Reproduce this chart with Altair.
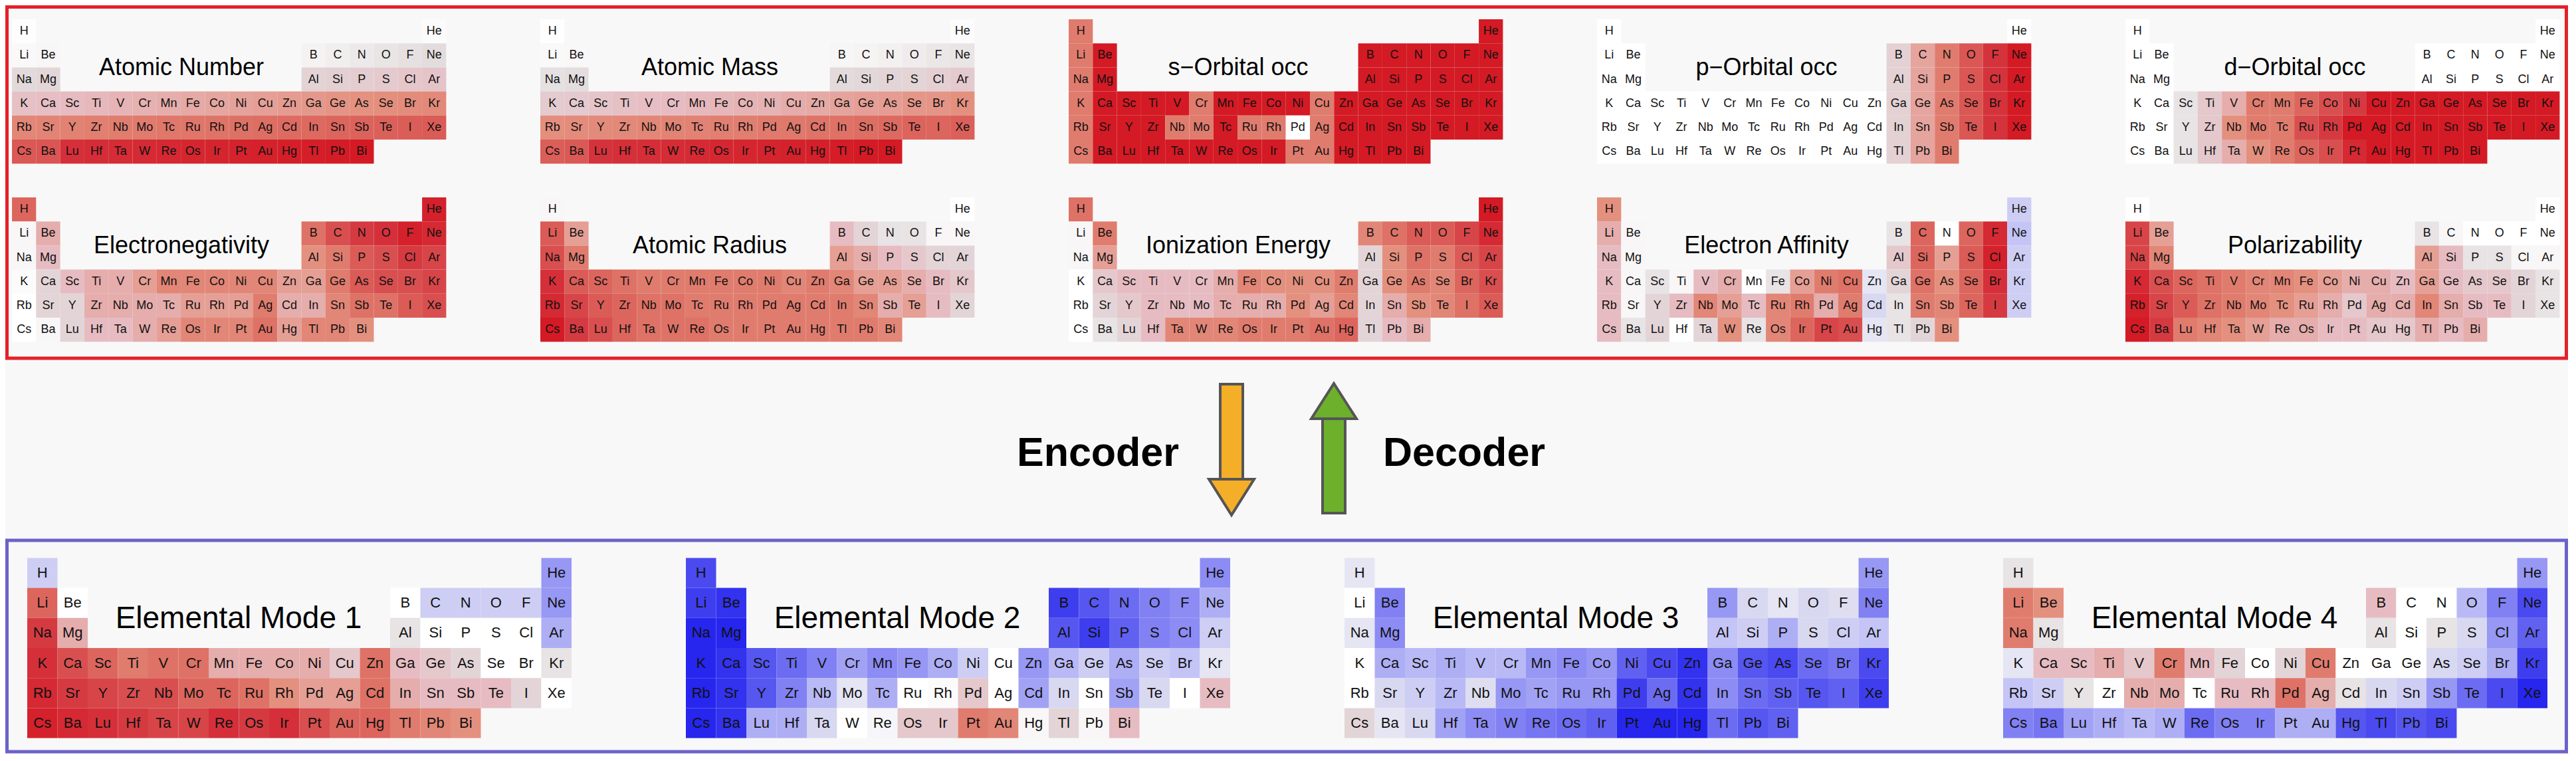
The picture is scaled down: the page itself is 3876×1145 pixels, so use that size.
import altair as alt
import pandas as pd

# ---------------- data ----------------
SYMBOLS = [
    ["H", "He"],
    ["Li", "Be", "B", "C", "N", "O", "F", "Ne"],
    ["Na", "Mg", "Al", "Si", "P", "S", "Cl", "Ar"],
    ["K", "Ca", "Sc", "Ti", "V", "Cr", "Mn", "Fe", "Co", "Ni", "Cu", "Zn", "Ga", "Ge", "As", "Se", "Br", "Kr"],
    ["Rb", "Sr", "Y", "Zr", "Nb", "Mo", "Tc", "Ru", "Rh", "Pd", "Ag", "Cd", "In", "Sn", "Sb", "Te", "I", "Xe"],
    ["Cs", "Ba", "Lu", "Hf", "Ta", "W", "Re", "Os", "Ir", "Pt", "Au", "Hg", "Tl", "Pb", "Bi"],
]
GROUPS = [
    [1, 18],
    [1, 2, 13, 14, 15, 16, 17, 18],
    [1, 2, 13, 14, 15, 16, 17, 18],
    [1, 2, 3, 4, 5, 6, 7, 8, 9, 10, 11, 12, 13, 14, 15, 16, 17, 18],
    [1, 2, 3, 4, 5, 6, 7, 8, 9, 10, 11, 12, 13, 14, 15, 16, 17, 18],
    [1, 2, 3, 4, 5, 6, 7, 8, 9, 10, 11, 12, 13, 14, 15],
]

ATOMIC_NUMBER = [
    [1, 2],
    [3, 4, 5, 6, 7, 8, 9, 10],
    [11, 12, 13, 14, 15, 16, 17, 18],
    [19, 20, 21, 22, 23, 24, 25, 26, 27, 28, 29, 30, 31, 32, 33, 34, 35, 36],
    [37, 38, 39, 40, 41, 42, 43, 44, 45, 46, 47, 48, 49, 50, 51, 52, 53, 54],
    [55, 56, 71, 72, 73, 74, 75, 76, 77, 78, 79, 80, 81, 82, 83],
]
ATOMIC_MASS = [
    [1.008, 4.003],
    [6.94, 9.012, 10.81, 12.011, 14.007, 15.999, 18.998, 20.180],
    [22.990, 24.305, 26.982, 28.085, 30.974, 32.06, 35.45, 39.948],
    [39.098, 40.078, 44.956, 47.867, 50.942, 51.996, 54.938, 55.845, 58.933, 58.693,
     63.546, 65.38, 69.723, 72.630, 74.922, 78.971, 79.904, 83.798],
    [85.468, 87.62, 88.906, 91.224, 92.906, 95.95, 98.0, 101.07, 102.91, 106.42,
     107.87, 112.41, 114.82, 118.71, 121.76, 127.60, 126.90, 131.29],
    [132.91, 137.33, 174.97, 178.49, 180.95, 183.84, 186.21, 190.23, 192.22, 195.08,
     196.97, 200.59, 204.38, 207.2, 208.98],
]
S_OCC = [
    [1, 2],
    [1, 2, 2, 2, 2, 2, 2, 2],
    [1, 2, 2, 2, 2, 2, 2, 2],
    [1, 2, 2, 2, 2, 1, 2, 2, 2, 2, 1, 2, 2, 2, 2, 2, 2, 2],
    [1, 2, 2, 2, 1, 1, 2, 1, 1, 0, 1, 2, 2, 2, 2, 2, 2, 2],
    [1, 2, 2, 2, 2, 2, 2, 2, 2, 1, 1, 2, 2, 2, 2],
]
P_OCC = [
    [0, 0],
    [0, 0, 1, 2, 3, 4, 5, 6],
    [0, 0, 1, 2, 3, 4, 5, 6],
    [0, 0, 0, 0, 0, 0, 0, 0, 0, 0, 0, 0, 1, 2, 3, 4, 5, 6],
    [0, 0, 0, 0, 0, 0, 0, 0, 0, 0, 0, 0, 1, 2, 3, 4, 5, 6],
    [0, 0, 0, 0, 0, 0, 0, 0, 0, 0, 0, 0, 1, 2, 3],
]
D_OCC = [
    [0, 0],
    [0, 0, 0, 0, 0, 0, 0, 0],
    [0, 0, 0, 0, 0, 0, 0, 0],
    [0, 0, 1, 2, 3, 5, 5, 6, 7, 8, 10, 10, 10, 10, 10, 10, 10, 10],
    [0, 0, 1, 2, 4, 5, 5, 7, 8, 10, 10, 10, 10, 10, 10, 10, 10, 10],
    [0, 0, 1, 2, 3, 4, 5, 6, 7, 9, 10, 10, 10, 10, 10],
]
ELECTRONEGATIVITY = [
    [0.6, 0.95],
    [0.05, 0.3, 0.55, 0.7, 0.8, 0.85, 0.95, 0.9],
    [0.05, 0.25, 0.4, 0.5, 0.65, 0.7, 0.8, 0.75],
    [0.02, 0.15, 0.25, 0.3, 0.3, 0.35, 0.45, 0.45, 0.45, 0.45, 0.45, 0.35, 0.35, 0.5, 0.65, 0.7, 0.7, 0.75],
    [0.0, 0.15, 0.15, 0.3, 0.3, 0.3, 0.3, 0.35, 0.35, 0.35, 0.5, 0.3, 0.3, 0.45, 0.55, 0.55, 0.65, 0.7],
    [0.0, 0.05, 0.15, 0.25, 0.25, 0.3, 0.35, 0.45, 0.45, 0.45, 0.55, 0.35, 0.45, 0.45, 0.4],
]
ATOMIC_RADIUS = [
    [0.05, 0.0],
    [0.65, 0.35, 0.25, 0.15, 0.1, 0.1, 0.05, 0.05],
    [0.7, 0.5, 0.35, 0.3, 0.25, 0.2, 0.15, 0.15],
    [0.85, 0.65, 0.6, 0.55, 0.5, 0.5, 0.5, 0.5, 0.5, 0.5, 0.45, 0.5, 0.45, 0.35, 0.35, 0.3, 0.25, 0.2],
    [0.9, 0.75, 0.65, 0.6, 0.55, 0.55, 0.5, 0.5, 0.5, 0.5, 0.5, 0.5, 0.5, 0.45, 0.3, 0.35, 0.25, 0.15],
    [1.0, 0.8, 0.7, 0.6, 0.55, 0.55, 0.55, 0.5, 0.5, 0.5, 0.5, 0.5, 0.5, 0.5, 0.45],
]
IONIZATION = [
    [0.55, 1.0],
    [0.05, 0.5, 0.45, 0.55, 0.65, 0.65, 0.75, 0.9],
    [0.05, 0.35, 0.15, 0.4, 0.55, 0.5, 0.65, 0.75],
    [0.0, 0.2, 0.25, 0.25, 0.25, 0.25, 0.3, 0.45, 0.4, 0.4, 0.4, 0.5, 0.15, 0.4, 0.5, 0.45, 0.6, 0.7],
    [0.0, 0.15, 0.2, 0.25, 0.25, 0.25, 0.3, 0.3, 0.3, 0.4, 0.35, 0.45, 0.15, 0.3, 0.4, 0.45, 0.55, 0.65],
    [0.0, 0.1, 0.15, 0.25, 0.45, 0.45, 0.45, 0.5, 0.5, 0.5, 0.55, 0.6, 0.15, 0.25, 0.3],
]
ELECTRON_AFFINITY = [
    [0.4, -0.2],
    [0.3, 0.05, 0.1, 0.6, 0.0, 0.6, 0.9, -0.25],
    [0.25, 0.05, 0.2, 0.6, 0.35, 0.65, 0.95, -0.2],
    [0.25, 0.05, 0.1, 0.05, 0.25, 0.3, 0.0, 0.1, 0.35, 0.5, 0.55, -0.1, 0.15, 0.55, 0.4, 0.6, 0.85, -0.2],
    [0.25, 0.05, 0.15, 0.25, 0.45, 0.35, 0.25, 0.45, 0.5, 0.3, 0.5, -0.15, 0.1, 0.5, 0.45, 0.6, 0.8, -0.2],
    [0.25, 0.1, 0.15, 0.0, 0.15, 0.4, 0.1, 0.45, 0.6, 0.75, 0.7, -0.1, 0.1, 0.15, 0.4],
]
POLARIZABILITY = [
    [0.0, 0.0],
    [0.75, 0.35, 0.1, 0.05, 0.0, 0.0, 0.0, 0.0],
    [0.75, 0.45, 0.35, 0.25, 0.1, 0.1, 0.05, 0.05],
    [0.9, 0.7, 0.6, 0.55, 0.5, 0.45, 0.45, 0.4, 0.35, 0.3, 0.3, 0.25, 0.35, 0.25, 0.2, 0.2, 0.15, 0.1],
    [0.95, 0.75, 0.65, 0.55, 0.5, 0.45, 0.4, 0.35, 0.3, 0.2, 0.3, 0.3, 0.45, 0.3, 0.25, 0.25, 0.15, 0.1],
    [1.0, 0.8, 0.5, 0.45, 0.4, 0.35, 0.3, 0.3, 0.25, 0.25, 0.2, 0.2, 0.3, 0.25, 0.3],
]
MODE_1 = [
    [-0.2, -0.45],
    [0.6, 0.0, 0.0, -0.2, -0.2, -0.2, -0.2, -0.45],
    [0.8, 0.3, 0.1, 0.0, 0.0, 0.0, 0.0, -0.35],
    [0.85, 0.7, 0.6, 0.5, 0.55, 0.55, 0.3, 0.3, 0.3, 0.3, 0.2, 0.55, 0.25, 0.2, 0.15, 0.0, 0.0, 0.1],
    [0.9, 0.8, 0.75, 0.7, 0.7, 0.6, 0.6, 0.55, 0.4, 0.35, 0.35, 0.55, 0.3, 0.25, 0.25, 0.25, 0.15, 0.0],
    [0.95, 0.9, 0.85, 0.8, 0.75, 0.75, 0.85, 0.8, 0.85, 0.7, 0.6, 0.6, 0.5, 0.45, 0.4],
]
MODE_2 = [
    [-0.8, -0.5],
    [-0.85, -0.9, -0.85, -0.75, -0.65, -0.55, -0.5, -0.35],
    [-0.95, -0.95, -0.75, -0.85, -0.7, -0.55, -0.5, -0.2],
    [-0.95, -0.9, -0.75, -0.65, -0.55, -0.4, -0.5, -0.45, -0.35, -0.2, 0.0, -0.45, -0.3, -0.2, -0.35, -0.2, -0.25, -0.1],
    [-0.95, -0.9, -0.75, -0.55, -0.3, -0.1, -0.35, 0.0, 0.02, 0.2, 0.0, -0.4, -0.15, 0.0, -0.4, -0.15, 0.0, 0.25],
    [-0.95, -0.9, -0.35, -0.35, -0.15, 0.0, -0.05, 0.2, 0.2, 0.5, 0.45, 0.05, 0.15, 0.05, 0.25],
]
MODE_3 = [
    [-0.1, -0.45],
    [0.0, -0.55, -0.45, -0.15, -0.1, -0.15, -0.12, -0.55],
    [-0.1, -0.5, -0.25, -0.2, -0.35, -0.15, -0.2, -0.25],
    [0.0, -0.35, -0.3, -0.35, -0.3, -0.3, -0.45, -0.5, -0.45, -0.7, -0.8, -0.9, -0.5, -0.75, -0.8, -0.65, -0.6, -0.8],
    [0.0, -0.15, -0.2, -0.3, -0.12, -0.45, -0.4, -0.45, -0.45, -0.85, -0.65, -0.9, -0.5, -0.65, -0.7, -0.75, -0.7, -0.85],
    [0.15, -0.1, -0.15, -0.4, -0.5, -0.55, -0.6, -0.65, -0.7, -0.95, -0.95, -0.95, -0.65, -0.75, -0.7],
]
MODE_4 = [
    [0.1, -0.45],
    [0.5, 0.4, 0.25, 0.0, 0.0, -0.3, -0.55, -0.8],
    [0.5, 0.1, 0.1, 0.0, 0.1, -0.15, -0.45, -0.7],
    [-0.1, 0.25, 0.25, 0.3, 0.2, 0.5, 0.25, 0.15, 0.0, 0.15, 0.5, 0.0, 0.0, 0.0, -0.15, -0.2, -0.35, -0.85],
    [-0.25, -0.2, 0.1, 0.0, 0.3, 0.3, 0.0, 0.25, 0.25, 0.55, 0.3, 0.1, -0.15, -0.2, -0.45, -0.65, -0.8, -0.95],
    [-0.55, -0.6, -0.4, -0.35, -0.3, -0.35, -0.65, -0.55, -0.55, -0.35, -0.35, -0.75, -0.8, -0.75, -0.8],
]

# (title, values, full-scale value)
TOP_PANELS = [
    ("Atomic Number", ATOMIC_NUMBER, 83),
    ("Atomic Mass", ATOMIC_MASS, 208.98),
    ("s\u2212Orbital occ", S_OCC, 2),
    ("p\u2212Orbital occ", P_OCC, 6),
    ("d\u2212Orbital occ", D_OCC, 10),
    ("Electronegativity", ELECTRONEGATIVITY, 1),
    ("Atomic Radius", ATOMIC_RADIUS, 1),
    ("Ionization Energy", IONIZATION, 1),
    ("Electron Affinity", ELECTRON_AFFINITY, 1),
    ("Polarizability", POLARIZABILITY, 1),
]
BOTTOM_PANELS = [
    ("Elemental Mode 1", MODE_1, 1),
    ("Elemental Mode 2", MODE_2, 1),
    ("Elemental Mode 3", MODE_3, 1),
    ("Elemental Mode 4", MODE_4, 1),
]

# diverging colour ramp (blue - white/grey - red)
CMAP_DOMAIN = [-1, -0.75, -0.5, -0.25, -0.12, -0.05, 0, 0.05, 0.12, 0.25, 0.4, 0.55, 0.7, 0.85, 1]
CMAP_RANGE = ["#1a1aee", "#5656f0", "#8c8cf4", "#c4c4f6", "#dedef0", "#f6f6fa", "#ffffff",
              "#f8f6f6", "#e2dcdd", "#e6bcc2", "#e4907f", "#de7266", "#d94f4f", "#d5303a", "#d41a24"]

# ---------------- layout ----------------
W, H = 3856, 1126
TOP = dict(x0=10, pitch=795, cw=36.3, ch=36.2, y0s=[21, 289], fs=18, tfs=36, tdx=255)
BOT = dict(x0=33, pitch=991, cw=45.5, ch=45.2, y0s=[831.4], fs=22, tfs=46, tdx=318)

cells, titles = [], []


def add_panels(panels, lay, ncol):
    for i, (title, vals, full) in enumerate(panels):
        r, c = divmod(i, ncol)
        x0 = lay["x0"] + c * lay["pitch"]
        y0 = lay["y0s"][r]
        cw, ch = lay["cw"], lay["ch"]
        for p, (syms, grps, vs) in enumerate(zip(SYMBOLS, GROUPS, vals)):
            for s, g, v in zip(syms, grps, vs):
                cells.append(dict(
                    x=x0 + (g - 1) * cw, x2=x0 + g * cw,
                    y=y0 + p * ch, y2=y0 + (p + 1) * ch,
                    xc=x0 + (g - 0.5) * cw, yc=y0 + (p + 0.5) * ch,
                    sym=s, v=v / full, fs=lay["fs"],
                ))
        titles.append(dict(x=x0 + lay["tdx"], y=y0 + 2.02 * ch, text=title, fs=lay["tfs"]))


add_panels(TOP_PANELS, TOP, 5)
add_panels(BOTTOM_PANELS, BOT, 4)

cells_df = pd.DataFrame(cells)
titles_df = pd.DataFrame(titles)

boxes_df = pd.DataFrame([
    dict(x=2.5, x2=W - 2.5, y=2.5, y2=531, color="#e5202a"),
    dict(x=2.5, x2=W - 2.5, y=805, y2=H - 3, color="#6b63c9"),
])
labels_df = pd.DataFrame([
    dict(x=1644, y=675, text="Encoder"),
    dict(x=2195, y=675, text="Decoder"),
])
# arrow shafts (rects) and heads (triangles drawn as areas)
shafts_df = pd.DataFrame([
    dict(x=1828, x2=1862, y=570, y2=715, fill="#f5ae28"),
    dict(x=1982, x2=2016, y=620, y2=764, fill="#6cb02c"),
])
heads_df = pd.DataFrame([
    dict(id="enc", x=1811, y=713, y2=713, fill="#f5ae28"),
    dict(id="enc", x=1845, y=713, y2=767, fill="#f5ae28"),
    dict(id="enc", x=1879, y=713, y2=713, fill="#f5ae28"),
    dict(id="dec", x=1965, y=622, y2=622, fill="#6cb02c"),
    dict(id="dec", x=1999, y=569, y2=622, fill="#6cb02c"),
    dict(id="dec", x=2033, y=622, y2=622, fill="#6cb02c"),
])

xs = alt.Scale(domain=[0, W], nice=False, zero=False)
ys = alt.Scale(domain=[0, H], nice=False, zero=False, reverse=True)


def X(f):
    return alt.X(f"{f}:Q", scale=xs, axis=None)


def Y(f):
    return alt.Y(f"{f}:Q", scale=ys, axis=None)


FONT = "Liberation Sans"

rects = alt.Chart(cells_df).mark_rect(strokeWidth=0).encode(
    x=X("x"), x2="x2", y=Y("y"), y2="y2",
    fill=alt.Fill("v:Q", scale=alt.Scale(domain=CMAP_DOMAIN, range=CMAP_RANGE,
                                         interpolate="rgb"), legend=None),
)
syms = alt.Chart(cells_df).mark_text(font=FONT, color="#111111", baseline="middle", align="center").encode(
    x=X("xc"), y=Y("yc"), text="sym:N", size=alt.Size("fs:Q", scale=None, legend=None),
)
title_text = alt.Chart(titles_df).mark_text(font=FONT, color="#000000", baseline="middle", align="center").encode(
    x=X("x"), y=Y("y"), text="text:N", size=alt.Size("fs:Q", scale=None, legend=None),
)
boxes = alt.Chart(boxes_df).mark_rect(fillOpacity=0, strokeWidth=5).encode(
    x=X("x"), x2="x2", y=Y("y"), y2="y2",
    stroke=alt.Stroke("color:N", scale=None, legend=None),
)
labels = alt.Chart(labels_df).mark_text(font=FONT, fontSize=61, fontWeight="bold", color="#000000",
                                        baseline="middle", align="center").encode(
    x=X("x"), y=Y("y"), text="text:N",
)
shafts = alt.Chart(shafts_df).mark_rect(stroke="#555555", strokeWidth=4).encode(
    x=X("x"), x2="x2", y=Y("y"), y2="y2",
    color=alt.Color("fill:N", scale=None, legend=None),
)
heads = alt.Chart(heads_df).mark_area(stroke="#555555", strokeWidth=4, opacity=1,
                                      strokeJoin="miter").encode(
    x=X("x"), y=Y("y"), y2="y2",
    color=alt.Color("fill:N", scale=None, legend=None),
    detail="id:N",
)

chart = alt.layer(boxes, rects, syms, title_text, labels, shafts, heads).resolve_scale(
    fill="independent", color="independent", size="independent", stroke="independent"
).properties(
    width=W, height=H, autosize="none", padding=0, background="#f8f8f8"
).configure_view(stroke=None)

chart.save("out.html", embed_options={"renderer": "svg", "actions": False})
